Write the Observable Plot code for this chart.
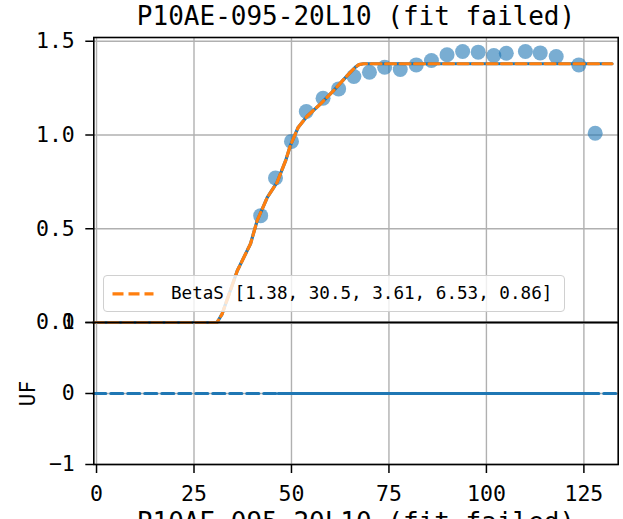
<!DOCTYPE html>
<html><head><meta charset="utf-8">
<script src="https://cdn.jsdelivr.net/npm/d3@7"></script>
<script src="https://cdn.jsdelivr.net/npm/@observablehq/plot@0.6"></script>
<style>
body{margin:0;background:#fff;}
#wrap{position:relative;width:623px;height:519px;overflow:hidden;background:#fff;font-family:"DejaVu Sans Mono",monospace;}
#wrap svg{position:absolute;left:0;top:0;}
#legend{position:absolute;left:103px;top:275px;width:462px;height:37px;box-sizing:border-box;border:1.5px solid #d0d0d0;border-radius:4px;background:rgba(255,255,255,0.8);}
#legend svg{position:absolute;left:7px;top:0;}
#legend span{position:absolute;left:67px;top:6px;font-size:17.6px;line-height:22px;color:#000;white-space:pre;}
</style></head><body><div id="wrap"></div>
<script>
const title = "P10AE-095-20L10 (fit failed)";
const yLabel = "UF";
const legendLabel = "BetaS [1.38, 30.5, 3.61, 6.53, 0.86]";

const xData = [42.1, 45.9, 50.0, 53.8, 58.1, 62.1, 66.0, 70.0, 73.9, 77.9, 82.0, 85.9, 89.9, 93.9, 97.9, 101.9, 105.1, 110.0, 113.8, 117.9, 123.7, 127.9];
const yData = [0.570, 0.771, 0.966, 1.125, 1.196, 1.246, 1.312, 1.335, 1.361, 1.349, 1.374, 1.397, 1.428, 1.445, 1.442, 1.424, 1.436, 1.445, 1.438, 1.419, 1.374, 1.009];

const curveX = [-0.7, 30.9, 32.2, 36.1, 39.5, 41.2, 43.8, 46.3, 48.5, 49.7, 51.7, 54.0, 57.4, 60.8, 64.3, 66.4, 67.3, 68.5, 132.2];
const curveY = [0, 0, 0.045, 0.276, 0.42, 0.543, 0.667, 0.747, 0.863, 0.943, 1.04, 1.10, 1.165, 1.237, 1.317, 1.362, 1.375, 1.38, 1.38];

const residX = [-0.7, 133.8];
const residY = [0, 0];
const residSolidX = [46.6, 128];
const residSolidY = [0, 0];

const xTicks = [0, 25, 50, 75, 100, 125];
const yTopTicks = [0, 0.5, 1.0, 1.5];
const yBotTicks = [-1, 0, 1];

const xDomain = [-0.7, 133.8];
const topDomain = [0, 1.52];
const botDomain = [-1, 1];

const points = xData.map((x, i) => ({x, y: yData[i]}));
const curve = curveX.map((x, i) => ({x, y: curveY[i]}));
const resid = residX.map((x, i) => ({x, y: residY[i]}));
const residSolid = residSolidX.map((x, i) => ({x, y: residSolidY[i]}));

const W = 623, H = 519, mL = 93.3, mR = 5.3;
const blue = "#1f77b4", orange = "#ff7f0e", grid = "#b0b0b0";
const baseStyle = {background: "transparent", overflow: "visible", fontFamily: "DejaVu Sans Mono", fontSize: "21.5px", color: "black"};

const topPlot = Plot.plot({
  width: W, height: H, marginLeft: mL, marginRight: mR, marginTop: 37, marginBottom: H - 322,
  style: baseStyle,
  x: {domain: xDomain, axis: null, label: null},
  y: {domain: topDomain, axis: null, label: null},
  marks: [
    Plot.gridX(xTicks, {stroke: grid, strokeOpacity: 1, strokeWidth: 1.4}),
    Plot.gridY(yTopTicks, {stroke: grid, strokeOpacity: 1, strokeWidth: 1.4}),
    Plot.dot(points, {x: "x", y: "y", r: 7.5, fill: blue, fillOpacity: 0.6}),
    Plot.line(curve, {x: "x", y: "y", stroke: blue, strokeWidth: 3.2}),
    Plot.line(curve, {x: "x", y: "y", stroke: orange, strokeWidth: 3.2, strokeDasharray: "10,4.5"}),
    Plot.frame({stroke: "black", strokeWidth: 1.6}),
    Plot.axisY(yTopTicks, {tickSize: 8, tickPadding: 11, label: null, strokeWidth: 1.5, tickFormat: d => d.toFixed(1)}),
    Plot.text([title], {frameAnchor: "top", dy: -13, lineAnchor: "bottom", fontSize: 26})
  ]
});

const botPlot = Plot.plot({
  width: W, height: H, marginLeft: mL, marginRight: mR, marginTop: 322, marginBottom: H - 464,
  style: baseStyle,
  x: {domain: xDomain, axis: null, label: null},
  y: {domain: botDomain, axis: null, label: null},
  marks: [
    Plot.gridX(xTicks, {stroke: grid, strokeOpacity: 1, strokeWidth: 1.4}),
    Plot.gridY(yBotTicks, {stroke: grid, strokeOpacity: 1, strokeWidth: 1.4}),
    Plot.line(resid, {x: "x", y: "y", stroke: blue, strokeWidth: 3.2, strokeDasharray: "12,5"}),
    Plot.line(residSolid, {x: "x", y: "y", stroke: blue, strokeWidth: 3.2}),
    Plot.frame({stroke: "black", strokeWidth: 1.6}),
    Plot.axisY(yBotTicks, {tickSize: 8, tickPadding: 11, label: null, strokeWidth: 1.5, tickFormat: d => d < 0 ? "\u2212" + Math.abs(d) : String(d)}),
    Plot.axisX(xTicks, {tickSize: 9, tickPadding: 12, label: null, strokeWidth: 1.5}),
    Plot.text([yLabel], {frameAnchor: "left", dx: -66, rotate: -90, fontSize: 21, textAnchor: "middle", lineAnchor: "middle"}),
    Plot.text([title], {frameAnchor: "bottom", dy: 47.7, lineAnchor: "top", fontSize: 26})
  ]
});

const wrap = document.getElementById("wrap");
wrap.appendChild(topPlot);
wrap.appendChild(botPlot);

const legend = document.createElement("div");
legend.id = "legend";
legend.innerHTML = `<svg width="50" height="36"><line x1="1.5" y1="17.8" x2="42.5" y2="17.8" stroke="${orange}" stroke-width="3.3" stroke-dasharray="11,5"/></svg><span></span>`;
legend.querySelector("span").textContent = legendLabel;
wrap.appendChild(legend);
</script></body></html>
